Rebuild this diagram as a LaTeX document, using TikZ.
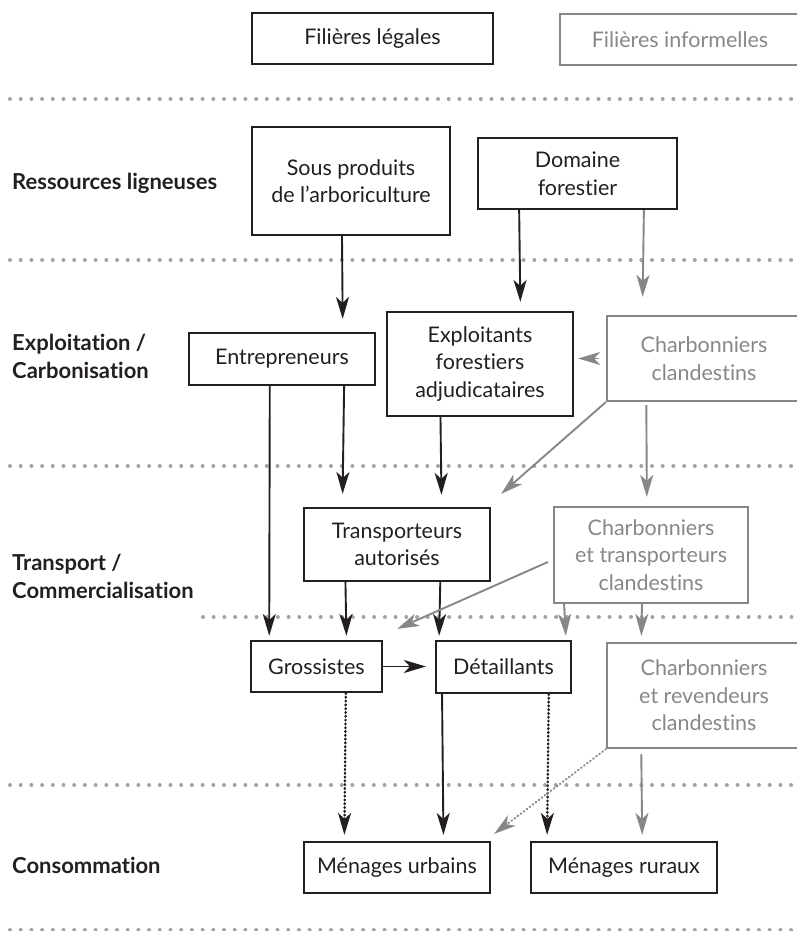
\documentclass[tikz,border=0pt]{standalone}
\usepackage{fontspec}
\setmainfont{Lato}[Ligatures=NoCommon]
\usetikzlibrary{arrows.meta,calc}
\definecolor{noir}{HTML}{231F20}
\definecolor{gris}{HTML}{878787}
\definecolor{pointille}{HTML}{A3A3A3}
\begin{document}
\begin{tikzpicture}[x=1pt,y=-1pt,
boite/.style={draw=noir,line width=2.2pt,text=noir,inner sep=0pt,align=center,font=\fontsize{21.5}{27.5}\selectfont},
gboite/.style={boite,draw=gris,text=gris},
etiq/.style={anchor=west,align=left,inner sep=0pt,text=noir,font=\bfseries\fontsize{22}{28}\selectfont},
fleche/.style={draw=noir,line width=1.9pt,-{Stealth[length=22pt,width=13pt,inset=6pt]}},
gfleche/.style={fleche,draw=gris},
pfleche/.style={fleche,dash pattern=on 0.8pt off 3pt,line cap=round,line width=2.4pt},
gpfleche/.style={pfleche,draw=gris,line width=2pt},
sep/.style={draw=pointille,line width=4pt,line cap=round,dash pattern=on 0pt off 10.7pt}]
\useasboundingbox (0,0) rectangle (796,931);
\foreach \y in {99,260,466,785,930}
  \path[sep] (10,\y) -- (800,\y);
\path[sep] (203,617) -- (800,617);
\node[boite,minimum width=241pt,minimum height=51pt] (leg) at (372.5,38.5) {Filières légales};
\node[gboite,minimum width=240pt,minimum height=51pt] (inf) at (680,39.5) {Filières informelles};
\node[etiq] (rl) at (12,183) {Ressources ligneuses};
\node[etiq] (ec) at (12,356) {Exploitation /\\Carbonisation};
\node[etiq] (tc) at (12,576) {Transport /\\Commercialisation};
\node[etiq] (co) at (12,865) {Consommation};
\node[boite,minimum width=198pt,minimum height=108pt] (sp) at (351,181) {Sous produits\\de l’arboriculture};
\node[boite,minimum width=199pt,minimum height=71pt] (df) at (577.5,173.5) {Domaine\\forestier};
\node[boite,minimum width=186pt,minimum height=52pt] (ent) at (282,359) {Entrepreneurs};
\node[boite,minimum width=186pt,minimum height=104pt] (exp) at (480,364) {Exploitants\\forestiers\\adjudicataires};
\node[gboite,minimum width=194pt,minimum height=85pt] (cc) at (704,358.5) {Charbonniers\\clandestins};
\node[boite,minimum width=186pt,minimum height=73pt] (tr) at (397,544.5) {Transporteurs\\autorisés};
\node[gboite,minimum width=194pt,minimum height=96pt] (ct) at (651,555) {Charbonniers\\et transporteurs\\clandestins};
\node[boite,minimum width=131pt,minimum height=51pt] (gr) at (316.5,666.5) {Grossistes};
\node[boite,minimum width=135pt,minimum height=52pt] (det) at (503.5,667) {Détaillants};
\node[gboite,minimum width=194pt,minimum height=105pt] (cr) at (704,695.5) {Charbonniers\\et revendeurs\\clandestins};
\node[boite,minimum width=186pt,minimum height=51pt] (mu) at (397,867.5) {Ménages urbains};
\node[boite,minimum width=186pt,minimum height=51pt] (mr) at (624,867.5) {Ménages ruraux};
\path[fleche,shorten >=13pt] ($(sp.south west)!.455!(sp.south east)$) -- ($(ent.north west)!.823!(ent.north east)$);
\path[fleche,shorten >=9pt] ($(df.south west)!.21!(df.south east)$) -- ($(exp.north west)!.715!(exp.north east)$);
\path[gfleche,shorten >=18pt] ($(df.south west)!.83!(df.south east)$) -- ($(cc.north west)!.186!(cc.north east)$);
\path[gfleche,shorten <=7pt,shorten >=4pt] (cc.west) -- (cc.west -| exp.east);
\path[fleche,shorten >=4pt] ($(ent.south west)!.435!(ent.south east)$) -- ($(gr.north west)!.145!(gr.north east)$);
\path[fleche,shorten >=13pt] ($(ent.south west)!.83!(ent.south east)$) -- ($(tr.north west)!.21!(tr.north east)$);
\path[fleche,shorten >=12pt] ($(exp.south west)!.29!(exp.south east)$) -- ($(tr.north west)!.737!(tr.north east)$);
\path[gfleche] (cc.south west) -- ($(tr.north east)+(10,-13)$);
\path[gfleche,shorten <=3pt,shorten >=9pt] ($(cc.south west)!.206!(cc.south east)$) -- ($(ct.north west)!.479!(ct.north east)$);
\path[fleche,shorten >=4pt] ($(tr.south west)!.226!(tr.south east)$) -- ($(gr.north west)!.725!(gr.north east)$);
\path[fleche,shorten >=4pt] ($(tr.south west)!.73!(tr.south east)$) -- ($(det.north west)!.03!(det.north east)$);
\path[gfleche] ($(ct.west)+(-5,7)$) -- ($(gr.north east)+(14,-11)$);
\path[gfleche,shorten >=4pt] ($(ct.south west)!.057!(ct.south east)$) -- ($(det.north west)!.956!(det.north east)$);
\path[gfleche,shorten >=6pt] ($(ct.south west)!.454!(ct.south east)$) -- ($(cr.north west)!.18!(cr.north east)$);
\path[fleche,shorten >=9pt] (gr.east) -- (gr.east -| det.west);
\path[pfleche,shorten >=6pt] ($(gr.south west)!.72!(gr.south east)$) -- ($(mu.north west)!.22!(mu.north east)$);
\path[fleche,shorten >=6pt] ($(det.south west)!.052!(det.south east)$) -- ($(mu.north west)!.747!(mu.north east)$);
\path[pfleche,shorten >=6pt] ($(det.south west)!.83!(det.south east)$) -- ($(mr.north west)!.091!(mr.north east)$);
\path[gpfleche] (cr.south west) -- ($(mu.north east)+(3,-7)$);
\path[gfleche,shorten <=5pt,shorten >=6pt] ($(cr.south west)!.18!(cr.south east)$) -- ($(mr.north west)!.597!(mr.north east)$);
\end{tikzpicture}
\end{document}
